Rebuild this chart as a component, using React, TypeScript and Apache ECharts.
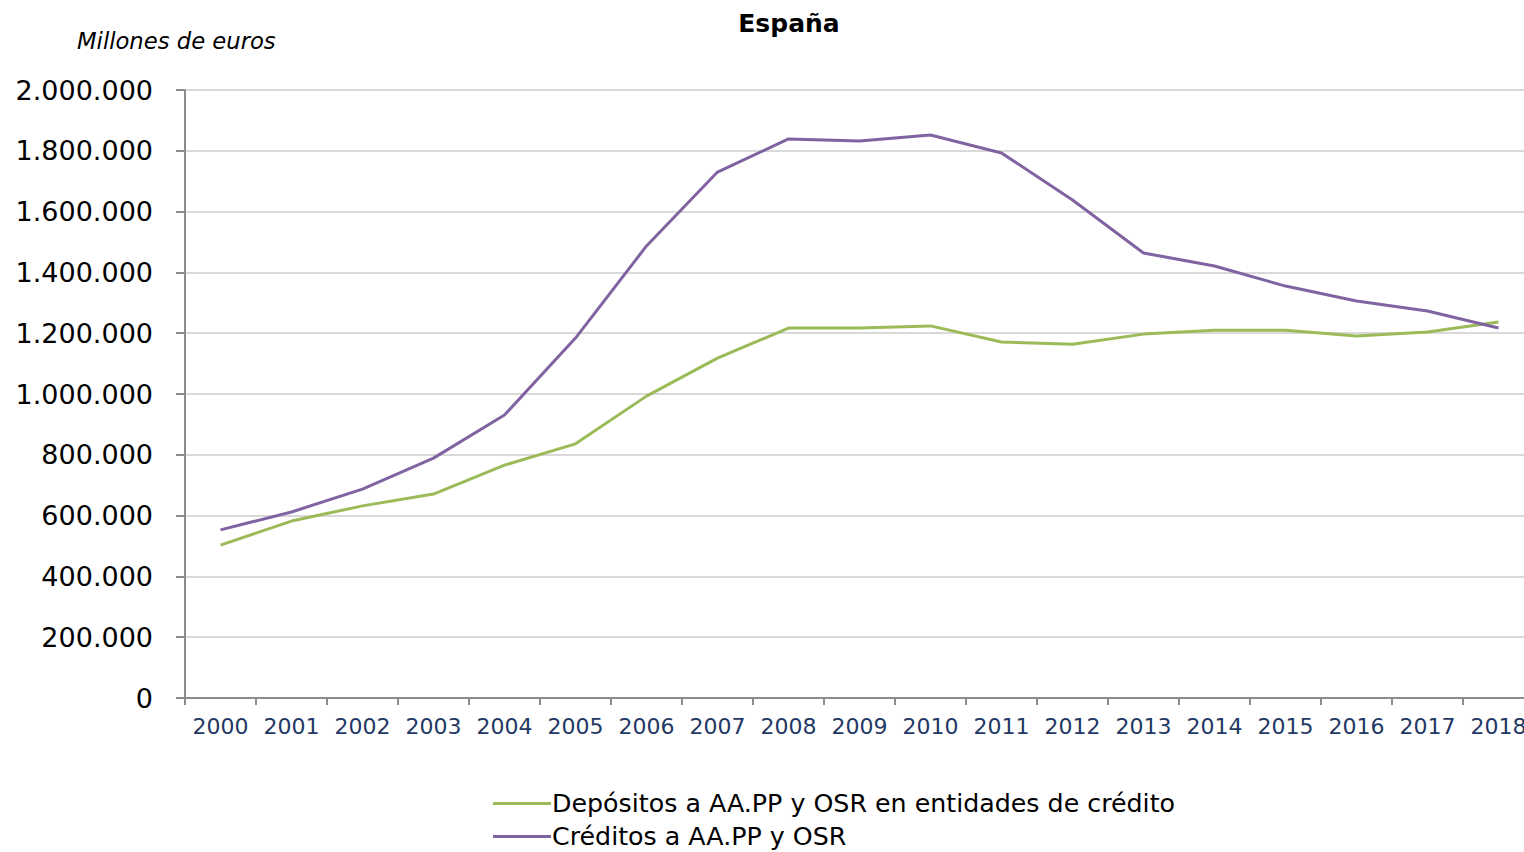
import React, { useEffect, useRef } from "react";
import * as echarts from "echarts";

const years = ["2000","2001","2002","2003","2004","2005","2006","2007","2008","2009","2010","2011","2012","2013","2014","2015","2016","2017","2018"];
const depositos = [503000, 582000, 632000, 671000, 766000, 836000, 993000, 1118000, 1217000, 1217000, 1224000, 1171000, 1164000, 1197000, 1210000, 1210000, 1191000, 1204000, 1237000];
const creditos = [553000, 612000, 687000, 789000, 931000, 1184000, 1487000, 1730000, 1839000, 1832000, 1852000, 1793000, 1638000, 1464000, 1421000, 1355000, 1306000, 1273000, 1217000];
const seriesNames = ["Depósitos a AA.PP y OSR en entidades de crédito", "Créditos a AA.PP y OSR"];

const fmt = (v: number) => String(Math.round(v)).replace(/\B(?=(\d{3})+(?!\d))/g, ".");

export default function App() {
  const ref = useRef<HTMLDivElement>(null);
  useEffect(() => {
    document.body.style.margin = "0";
    document.body.style.overflow = "hidden";
    const chart = echarts.init(ref.current!, null, { renderer: "svg" });
    const font = "'DejaVu Sans', sans-serif";
    const legendBase = {
      orient: "horizontal",
      left: 488,
      itemWidth: 58,
      itemHeight: 3,
      icon: "rect",
      textStyle: { fontSize: 25.3, color: "#000", fontFamily: font, padding: [0, 0, 0, -4] },
    };
    chart.setOption({
      animation: false,
      backgroundColor: "#ffffff",
      title: {
        text: "España",
        left: 784,
        textAlign: "center",
        top: 6,
        textStyle: { fontSize: 25, fontWeight: "bold", color: "#000", fontFamily: font },
      },
      graphic: [
        {
          type: "text",
          left: 77,
          top: 29,
          style: { text: "Millones de euros", fontSize: 22.7, fontStyle: "italic", fill: "#000", fontFamily: font },
        },
      ],
      legend: [
        { ...legendBase, top: 786, data: [seriesNames[0]] },
        { ...legendBase, top: 819, data: [seriesNames[1]] },
      ],
      grid: { left: 185, top: 90, width: 1349, height: 608 },
      xAxis: {
        type: "category",
        data: years,
        boundaryGap: true,
        axisLine: { lineStyle: { color: "#8c8c8c", width: 2 } },
        axisTick: { show: true, length: 7, interval: 0, lineStyle: { color: "#8c8c8c", width: 2 } },
        axisLabel: { fontSize: 22, color: "#1f3864", margin: 17, interval: 0, hideOverlap: false, fontFamily: font },
      },
      yAxis: {
        type: "value",
        min: 0,
        max: 2000000,
        interval: 200000,
        axisLine: { show: true, lineStyle: { color: "#8c8c8c", width: 2 } },
        axisTick: { show: true, length: 9, lineStyle: { color: "#8c8c8c", width: 2 } },
        axisLabel: { fontSize: 27, color: "#000", margin: 32, fontFamily: font, formatter: (v: number) => fmt(v) },
        splitLine: { lineStyle: { color: "#d9d9d9", width: 2 } },
      },
      series: [
        {
          name: seriesNames[0],
          type: "line",
          data: depositos,
          symbol: "none",
          lineStyle: { color: "#9bbb59", width: 3 },
          itemStyle: { color: "#9bbb59" },
        },
        {
          name: seriesNames[1],
          type: "line",
          data: creditos,
          symbol: "none",
          lineStyle: { color: "#8064a2", width: 3 },
          itemStyle: { color: "#8064a2" },
        },
      ],
    });
    return () => chart.dispose();
  }, []);
  return <div ref={ref} style={{ width: 1560, height: 852 }} />;
}
